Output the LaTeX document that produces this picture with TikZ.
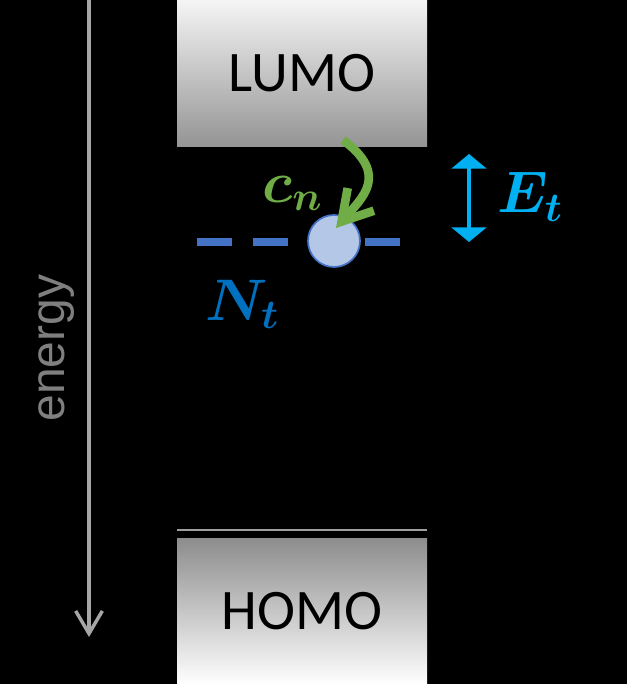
\RequirePackage{fix-cm}
\documentclass[tikz,border=0pt]{standalone}
\usepackage{amsmath}
\usepackage{fontspec}
\newfontfamily\calibri{Carlito}
\newfontfamily\arial{Liberation Sans}
\usetikzlibrary{arrows.meta, positioning}
\definecolor{OffBlue}{HTML}{4472C4}
\definecolor{OffLight}{HTML}{B4C7E7}
\definecolor{OffGreen}{HTML}{70AD47}
\definecolor{OffCyan}{HTML}{00B0F0}
\definecolor{OffDark}{HTML}{0070C0}
\definecolor{AxisGray}{HTML}{A6A6A6}
\definecolor{LabelGray}{HTML}{7F7F7F}

\begin{document}
\begin{tikzpicture}[x=0.75pt, y=-0.75pt,
          band/.style={rectangle, minimum width=187.5pt, inner sep=0pt,
                       font=\calibri\fontsize{43}{48}\selectfont, text=black},
          axis/.style={-{Straight Barb[length=17pt, width=20pt]}, draw=AxisGray,
                       line width=2.6pt},
          mlbl/.style={font=\fontsize{44}{48}\selectfont, inner sep=0pt}
        ]
        \useasboundingbox[fill=black] (0,0) rectangle (627,684);

        % energy axis
        \coordinate (etop) at (89,0);
        \coordinate (ebot) at (89,637);
        \draw[axis] (etop) -- (ebot);
        \node[rotate=90, text=LabelGray, font=\arial\fontsize{36}{40}\selectfont]
              (elbl) at (56.5,348) {energy};

        % bands
        \node[band, minimum height=110.25pt, top color=white!96!black,
              bottom color=black!42] (lumo) at (302,73.5) {LUMO};
        \node[band, minimum height=109.5pt, top color=black!45,
              bottom color=white] (homo) at (302,611) {HOMO};
        \draw[draw=black!38, line width=1.5pt]
              ([yshift=6pt]homo.north west) -- ([yshift=6pt]homo.north east);

        % trap level
        \coordinate (tl) at (197,242);
        \coordinate (tr) at (400,242);
        \draw[OffBlue, line width=6pt, dash pattern=on 26.25pt off 15.75pt] (tl) -- (tr);
        \node[circle, minimum size=39pt, inner sep=0pt, fill=OffLight,
              draw=OffBlue, line width=1.3pt] (trap) at (334,241) {};

        % capture
        \coordinate (cstart) at (343,140);
        \coordinate (cend) at (336,228);
        \draw[OffGreen, line width=6.5pt, -{Straight Barb[length=22pt, width=26pt]}]
              (cstart) .. controls (390,175) and (362,198) .. (cend);
        \node[mlbl, text=OffGreen, anchor=base west] (cn) at (262,202)
              {$\boldsymbol{c_n}$};

        % trap depth
        \coordinate (dtop) at (469,154);
        \coordinate (dbot) at (469,242);
        \draw[OffCyan, line width=3pt,
              {Triangle[length=11pt, width=26pt]}-{Triangle[length=11pt, width=26pt]}]
              (dtop) -- (dbot);
        \node[mlbl, text=OffCyan, anchor=base west] (et) at (497,213)
              {$\boldsymbol{E_t}$};
        \node[mlbl, text=OffDark, anchor=base west] (nt) at (205,320)
              {$\boldsymbol{N_t}$};
      \end{tikzpicture}
\end{document}
